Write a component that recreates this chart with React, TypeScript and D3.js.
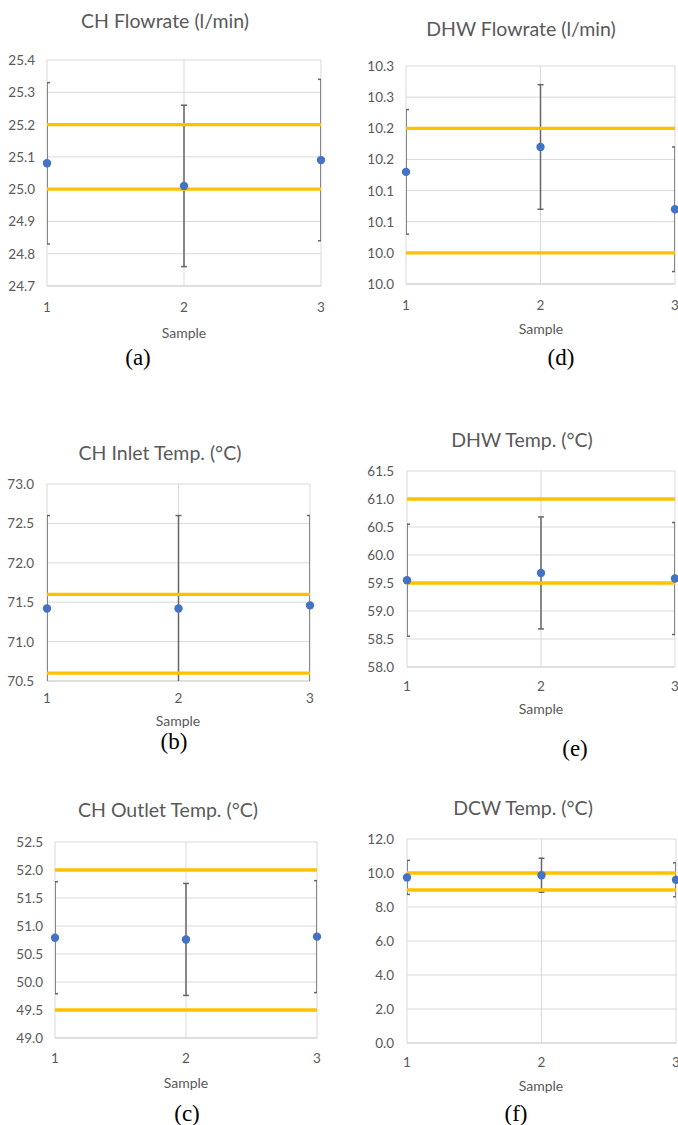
import React from "react";
import * as d3 from "d3";

const samples = [1, 2, 3];

// (a) CH flowrate
const chFlowMean = [25.08, 25.01, 25.09];
const chFlowErr = [0.25, 0.25, 0.25];
const chFlowLimits = [25.0, 25.2];
const chFlowTicks = [24.7, 24.8, 24.9, 25.0, 25.1, 25.2, 25.3, 25.4];
const chFlowLabels = ["24.7", "24.8", "24.9", "25.0", "25.1", "25.2", "25.3", "25.4"];

// (d) DHW flowrate
const dhwFlowMean = [10.18, 10.22, 10.12];
const dhwFlowErr = [0.1, 0.1, 0.1];
const dhwFlowLimits = [10.05, 10.25];
const dhwFlowTicks = [10.0, 10.05, 10.1, 10.15, 10.2, 10.25, 10.3, 10.35];
const dhwFlowLabels = ["10.0", "10.0", "10.1", "10.1", "10.2", "10.2", "10.3", "10.3"];

// (b) CH inlet temp
const chInMean = [71.42, 71.42, 71.46];
const chInErr = [1.18, 1.18, 1.14];
const chInLimits = [70.6, 71.6];
const chInTicks = [70.5, 71.0, 71.5, 72.0, 72.5, 73.0];
const chInLabels = ["70.5", "71.0", "71.5", "72.0", "72.5", "73.0"];

// (e) DHW temp
const dhwTempMean = [59.55, 59.68, 59.58];
const dhwTempErr = [1.0, 1.0, 1.0];
const dhwTempLimits = [59.5, 61.0];
const dhwTempTicks = [58.0, 58.5, 59.0, 59.5, 60.0, 60.5, 61.0, 61.5];
const dhwTempLabels = ["58.0", "58.5", "59.0", "59.5", "60.0", "60.5", "61.0", "61.5"];

// (c) CH outlet temp
const chOutMean = [50.79, 50.76, 50.81];
const chOutErr = [1.0, 1.0, 1.0];
const chOutLimits = [49.5, 52.0];
const chOutTicks = [49.0, 49.5, 50.0, 50.5, 51.0, 51.5, 52.0, 52.5];
const chOutLabels = ["49.0", "49.5", "50.0", "50.5", "51.0", "51.5", "52.0", "52.5"];

// (f) DCW temp
const dcwMean = [9.74, 9.87, 9.6];
const dcwErr = [1.0, 1.0, 1.0];
const dcwLimits = [9.0, 10.0];
const dcwTicks = [0, 2, 4, 6, 8, 10, 12];
const dcwLabels = ["0.0", "2.0", "4.0", "6.0", "8.0", "10.0", "12.0"];

const FONT = "Lato, 'Open Sans', sans-serif";
const GREY_TEXT = "#595959";

const Panel = ({ id, title, caption, mean, err, limits, ticks, labels, box }) => {
  const { L, R, T, B, titleX, titleY, tickRight, xTickY, sampleX, sampleY, capX, capY } = box;
  const x = d3.scaleLinear().domain([1, 3]).range([L, R]);
  const y = d3.scaleLinear().domain([ticks[0], ticks[ticks.length - 1]]).range([B, T]);
  const clipId = `clip-${id}`;
  return (
    <g>
      <defs>
        <clipPath id={clipId}>
          <rect x={L} y={T} width={R - L} height={B - T} />
        </clipPath>
      </defs>
      <text x={titleX} y={titleY} textAnchor="middle" dominantBaseline="central"
        fontFamily={FONT} fontSize={19.5} fill={GREY_TEXT}>{title}</text>
      {ticks.map((t, i) => (
        <g key={"y" + i}>
          <line x1={L} x2={R} y1={y(t)} y2={y(t)} stroke={i === 0 ? "#bfbfbf" : "#d9d9d9"} strokeWidth={1} />
          <text x={tickRight} y={y(t)} textAnchor="end" dominantBaseline="central"
            fontFamily={FONT} fontSize={13.5} fill={GREY_TEXT}>{labels[i]}</text>
        </g>
      ))}
      {samples.map((s) => (
        <g key={"x" + s}>
          <line x1={x(s)} x2={x(s)} y1={T} y2={B} stroke="#d9d9d9" strokeWidth={1} />
          <text x={x(s)} y={xTickY} textAnchor="middle" dominantBaseline="central"
            fontFamily={FONT} fontSize={13.5} fill={GREY_TEXT}>{s}</text>
        </g>
      ))}
      <text x={sampleX} y={sampleY} textAnchor="middle" dominantBaseline="central"
        fontFamily={FONT} fontSize={14} fill={GREY_TEXT}>Sample</text>
      <g clipPath={`url(#${clipId})`}>
        {samples.map((s, i) => (
          <g key={"e" + s} stroke="#666666" strokeWidth={1.5}>
            <line x1={x(s)} x2={x(s)} y1={y(mean[i] + err[i])} y2={y(mean[i] - err[i])} />
            <line x1={x(s) - 3} x2={x(s) + 3} y1={y(mean[i] + err[i])} y2={y(mean[i] + err[i])} />
            <line x1={x(s) - 3} x2={x(s) + 3} y1={y(mean[i] - err[i])} y2={y(mean[i] - err[i])} />
          </g>
        ))}
      </g>
      {limits.map((v, i) => (
        <line key={"l" + i} x1={L} x2={R} y1={y(v)} y2={y(v)} stroke="#FFC000" strokeWidth={3.3} />
      ))}
      {samples.map((s, i) => (
        <circle key={"p" + s} cx={x(s)} cy={y(mean[i])} r={4.2} fill="#4472C4" />
      ))}
      <text x={capX} y={capY} textAnchor="middle" dominantBaseline="central"
        fontFamily="'Liberation Serif', 'Times New Roman', serif" fontSize={23} fill="#000">{caption}</text>
    </g>
  );
};

export default function App() {
  return (
    <>
      <style>{`body{margin:0}`}</style>
      <svg width={678} height={1125} style={{ display: "block", background: "#fff" }}>
        <Panel id="a" title="CH Flowrate (l/min)" caption="(a)" mean={chFlowMean} err={chFlowErr}
          limits={chFlowLimits} ticks={chFlowTicks} labels={chFlowLabels}
          box={{ L: 47, R: 321, T: 60, B: 286, titleX: 165, titleY: 20, tickRight: 35, xTickY: 307, sampleX: 184, sampleY: 332, capX: 138, capY: 357 }} />
        <Panel id="d" title="DHW Flowrate (l/min)" caption="(d)" mean={dhwFlowMean} err={dhwFlowErr}
          limits={dhwFlowLimits} ticks={dhwFlowTicks} labels={dhwFlowLabels}
          box={{ L: 406, R: 675, T: 66, B: 284, titleX: 521, titleY: 28, tickRight: 394, xTickY: 305, sampleX: 541, sampleY: 328, capX: 561, capY: 357 }} />
        <Panel id="b" title="CH Inlet Temp. (°C)" caption="(b)" mean={chInMean} err={chInErr}
          limits={chInLimits} ticks={chInTicks} labels={chInLabels}
          box={{ L: 47, R: 310, T: 484, B: 681, titleX: 160, titleY: 452, tickRight: 34, xTickY: 698, sampleX: 178, sampleY: 720, capX: 174, capY: 741 }} />
        <Panel id="e" title="DHW Temp. (°C)" caption="(e)" mean={dhwTempMean} err={dhwTempErr}
          limits={dhwTempLimits} ticks={dhwTempTicks} labels={dhwTempLabels}
          box={{ L: 407, R: 675, T: 471, B: 667, titleX: 522, titleY: 439, tickRight: 394, xTickY: 686, sampleX: 541, sampleY: 708, capX: 575, capY: 748 }} />
        <Panel id="c" title="CH Outlet Temp. (°C)" caption="(c)" mean={chOutMean} err={chOutErr}
          limits={chOutLimits} ticks={chOutTicks} labels={chOutLabels}
          box={{ L: 55, R: 317, T: 842, B: 1038, titleX: 168, titleY: 809, tickRight: 43, xTickY: 1058, sampleX: 186, sampleY: 1082, capX: 187, capY: 1113 }} />
        <Panel id="f" title="DCW Temp. (°C)" caption="(f)" mean={dcwMean} err={dcwErr}
          limits={dcwLimits} ticks={dcwTicks} labels={dcwLabels}
          box={{ L: 407, R: 676, T: 839, B: 1043, titleX: 523, titleY: 807, tickRight: 394, xTickY: 1062, sampleX: 541, sampleY: 1085, capX: 516, capY: 1113 }} />
      </svg>
    </>
  );
}
